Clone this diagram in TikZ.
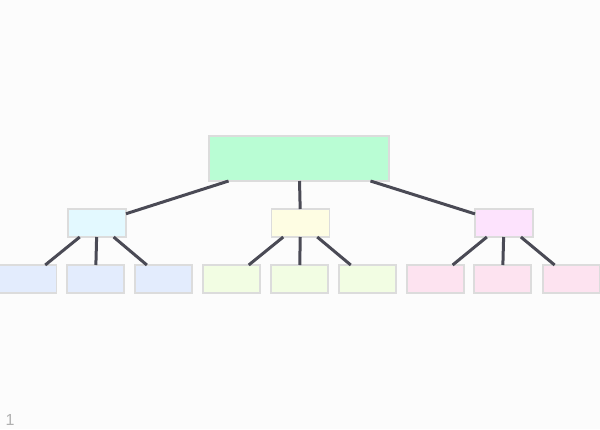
\documentclass[tikz,border=0pt]{standalone}
\usepackage{fontspec}
\setmainfont{Liberation Sans}
\definecolor{bgc}{HTML}{FCFCFC}
\definecolor{edgec}{HTML}{4A4A55}
\definecolor{bordc}{HTML}{DCDCDC}
\definecolor{topc}{HTML}{B9FDD4}
\definecolor{mida}{HTML}{E3F9FF}
\definecolor{midb}{HTML}{FEFDE3}
\definecolor{midc}{HTML}{FDE3FD}
\definecolor{lowa}{HTML}{E3ECFD}
\definecolor{lowb}{HTML}{F2FDE3}
\definecolor{lowc}{HTML}{FDE3F0}
\definecolor{numc}{HTML}{B0B0B0}
\tikzset{
  box/.style={draw=bordc, line width=1.5pt, inner sep=0pt, outer sep=0pt},
  topbox/.style={box, fill=topc, minimum width=180pt, minimum height=45pt},
  midbox/.style={box, minimum width=58pt, minimum height=28pt},
  lowbox/.style={box, minimum width=57pt, minimum height=28pt},
  link/.style={draw=edgec, line width=3pt}
}
\begin{document}
\begin{tikzpicture}[x=1pt,y=-1pt]
\fill[bgc] (0,0) rectangle (600,429);
\useasboundingbox (0,0) rectangle (600,429);
% top
\node[topbox] (root) at (299,158.5) {};
% middle
\node[midbox, fill=mida] (ma) at (97,223) {};
\node[midbox, fill=midb] (mb) at (300.5,223) {};
\node[midbox, fill=midc] (mc) at (504,223) {};
% bottom
\node[lowbox, fill=lowa] (a1) at (28,279) {};
\node[lowbox, fill=lowa] (a2) at (95.5,279) {};
\node[lowbox, fill=lowa] (a3) at (163.5,279) {};
\node[lowbox, fill=lowb] (b1) at (231.5,279) {};
\node[lowbox, fill=lowb] (b2) at (299.5,279) {};
\node[lowbox, fill=lowb] (b3) at (367.5,279) {};
\node[lowbox, fill=lowc] (c1) at (435.5,279) {};
\node[lowbox, fill=lowc] (c2) at (502.5,279) {};
\node[lowbox, fill=lowc] (c3) at (571.5,279) {};
% links
\draw[link] (root) -- (ma);
\draw[link] (root) -- (mb);
\draw[link] (root) -- (mc);
\draw[link] (ma) -- (a1);
\draw[link] (ma) -- (a2);
\draw[link] (ma) -- (a3);
\draw[link] (mb) -- (b1);
\draw[link] (mb) -- (b2);
\draw[link] (mb) -- (b3);
\draw[link] (mc) -- (c1);
\draw[link] (mc) -- (c2);
\draw[link] (mc) -- (c3);
% page number
\node[text=numc, font=\fontsize{16pt}{18pt}\selectfont, inner sep=0pt] (num) at (10,419.5) {1};
\end{tikzpicture}
\end{document}
